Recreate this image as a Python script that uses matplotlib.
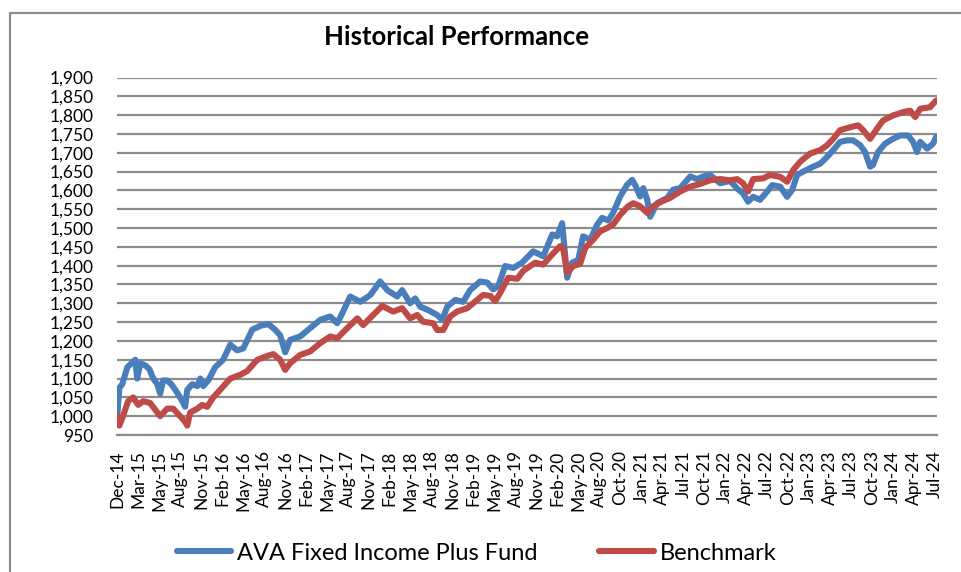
import matplotlib.pyplot as plt
from matplotlib.patches import Rectangle
from matplotlib.ticker import FuncFormatter

# x positions are measured along the category axis in label steps (Dec-14 = 0 ... Jul-24 = 39)
tick_labels = ['Dec-14', 'Mar-15', 'May-15', 'Aug-15', 'Nov-15', 'Feb-16', 'May-16', 'Aug-16',
               'Nov-16', 'Feb-17', 'May-17', 'Aug-17', 'Nov-17', 'Feb-18', 'May-18', 'Aug-18',
               'Nov-18', 'Feb-19', 'May-19', 'Aug-19', 'Nov-19', 'Feb-20', 'May-20', 'Aug-20',
               'Oct-20', 'Jan-21', 'Apr-21', 'Jul-21', 'Oct-21', 'Jan-22', 'Apr-22', 'Jul-22',
               'Oct-22', 'Jan-23', 'Apr-23', 'Jul-23', 'Oct-23', 'Jan-24', 'Apr-24', 'Jul-24']

fund_x = [0.00, 0.10, 0.24, 0.48, 0.67, 0.86, 0.95, 1.10, 1.34, 1.53, 1.72, 1.91, 2.05, 2.19,
          2.38, 2.58, 2.77, 3.00, 3.15, 3.24, 3.34, 3.58, 3.82, 3.96, 4.10, 4.34, 4.67, 5.05,
          5.39, 5.72, 6.01, 6.44, 6.82, 7.20, 7.53, 7.77, 8.01, 8.25, 8.73, 9.20, 9.68, 10.16,
          10.49, 10.73, 11.11, 11.59, 12.07, 12.54, 12.88, 13.35, 13.59, 13.97, 14.21, 14.45,
          14.83, 15.26, 15.50, 15.74, 16.12, 16.50, 16.83, 17.31, 17.65, 17.93, 18.17, 18.50,
          18.89, 19.31, 19.84, 20.32, 20.75, 20.98, 21.22, 21.37, 21.46, 21.70, 21.99, 22.22,
          22.56, 22.89, 23.13, 23.42, 23.65, 23.99, 24.32, 24.56, 24.70, 24.94, 25.09, 25.28,
          25.42, 25.75, 26.23, 26.52, 26.85, 27.33, 27.66, 27.95, 28.28, 28.76, 29.23, 29.57,
          29.85, 30.09, 30.33, 30.66, 31.00, 31.24, 31.62, 31.95, 32.19, 32.43, 32.72, 33.19,
          33.53, 33.86, 34.15, 34.48, 34.82, 35.10, 35.44, 35.67, 35.91, 36.05, 36.29, 36.62,
          37.00, 37.34, 37.72, 37.96, 38.15, 38.30, 38.63, 38.91, 39.06]
fund = [1000, 1075, 1085, 1130, 1140, 1150, 1100, 1140, 1135, 1125, 1100, 1085, 1060, 1095,
        1095, 1085, 1070, 1050, 1035, 1025, 1070, 1085, 1080, 1100, 1080, 1095, 1130, 1150,
        1190, 1175, 1180, 1230, 1240, 1245, 1230, 1215, 1170, 1203, 1212, 1234, 1256, 1265,
        1247, 1273, 1318, 1304, 1322, 1358, 1335, 1318, 1335, 1300, 1313, 1291,
        1282, 1269, 1256, 1291, 1309, 1304, 1335, 1358, 1355, 1337, 1345, 1399,
        1394, 1408, 1438, 1425, 1483, 1478, 1513, 1425, 1368, 1408, 1415, 1478,
        1469, 1509, 1527, 1520, 1540, 1584, 1615, 1628, 1615, 1584, 1606, 1575,
        1530, 1566, 1580, 1602, 1606, 1637, 1630, 1637, 1641, 1619, 1625, 1605,
        1592, 1570, 1583, 1575, 1597, 1614, 1610, 1583, 1601, 1641, 1650, 1663,
        1671, 1689, 1707, 1729, 1733, 1733, 1720, 1702, 1663, 1668, 1702, 1724,
        1737, 1746, 1746, 1729, 1702, 1729, 1711, 1724, 1742]

bench_x = [0.00, 0.10, 0.24, 0.52, 0.76, 1.00, 1.24, 1.57, 1.91, 2.05, 2.38, 2.67, 3.00, 3.24,
           3.34, 3.48, 3.82, 4.05, 4.29, 4.58, 4.91, 5.39, 5.87, 6.20, 6.68, 7.15, 7.44, 7.77,
           8.01, 8.25, 8.73, 9.20, 9.68, 10.16, 10.49, 10.97, 11.45, 11.73, 12.21, 12.64, 13.16,
           13.59, 13.97, 14.31, 14.59, 15.07, 15.26, 15.55, 15.88, 16.21, 16.69, 17.17, 17.45,
           17.79, 18.03, 18.27, 18.65, 19.08, 19.36, 19.93, 20.32, 20.75, 21.13, 21.27, 21.46,
           21.75, 22.08, 22.32, 22.70, 23.03, 23.37, 23.65, 23.99, 24.37, 24.61, 24.94, 25.28,
           25.56, 25.99, 26.37, 26.85, 27.33, 27.80, 28.28, 28.76, 29.23, 29.57, 29.85, 30.09,
           30.33, 30.81, 31.14, 31.62, 31.95, 32.24, 32.57, 33.05, 33.53, 33.86, 34.15, 34.48,
           34.96, 35.34, 35.58, 35.91, 36.24, 36.53, 37.00, 37.48, 37.82, 38.06, 38.30, 38.77,
           39.06]
bench = [1000, 975, 995, 1040, 1050, 1030, 1040, 1035, 1010, 1000, 1020, 1020, 1000, 985,
         975, 1010, 1020, 1030, 1025, 1050, 1070, 1100, 1110, 1120, 1150, 1160, 1165, 1150,
         1123, 1141, 1163, 1172, 1194, 1212, 1207, 1234, 1260, 1242, 1269, 1293, 1278,
         1287, 1260, 1269, 1251, 1247, 1229, 1229, 1265, 1278, 1287, 1309, 1322,
         1320, 1306, 1328, 1368, 1365, 1386, 1408, 1403, 1430, 1452, 1445, 1381,
         1399, 1405, 1447, 1469, 1491, 1500, 1509, 1535, 1558, 1566, 1558, 1540,
         1558, 1571, 1580, 1597, 1610, 1617, 1627, 1630, 1627, 1630, 1619, 1597,
         1630, 1632, 1641, 1636, 1623, 1654, 1676, 1698, 1707, 1720, 1737, 1760,
         1768, 1773, 1760, 1737, 1764, 1786, 1799, 1808, 1812, 1795, 1817, 1821,
         1839]

plt.rcParams['font.family'] = ['Lato', 'DejaVu Sans']

fig = plt.figure(figsize=(9.61, 5.72), dpi=100)
ax = fig.add_axes([0.122, 0.2395, 0.853, 0.625])

ax.plot(fund_x, fund, color='#4A7EBB', lw=4.4, solid_capstyle='round', solid_joinstyle='round',
        label='AVA Fixed Income Plus Fund', zorder=3)
ax.plot(bench_x, bench, color='#BE4B48', lw=4.4, solid_capstyle='round', solid_joinstyle='round',
        label='Benchmark', zorder=4)

ax.set_ylim(950, 1900)
ax.set_yticks(range(950, 1901, 50))
ax.yaxis.set_major_formatter(FuncFormatter(lambda v, p: f'{int(v):,}'))
ax.set_xlim(0, 39.1)
ax.set_xticks(range(len(tick_labels)))
ax.set_xticklabels(tick_labels, rotation=90, va='top', ha='center')

ax.grid(axis='y', color='#8C8C8C', lw=1.6)
ax.set_axisbelow(True)
for s in ['left', 'right', 'top']:
    ax.spines[s].set_visible(False)
ax.spines['bottom'].set_color('#8C8C8C')
ax.spines['bottom'].set_linewidth(1.6)
ax.tick_params(axis='both', length=0, labelsize=12.5, colors='black')
ax.tick_params(axis='x', pad=11)
ax.tick_params(axis='y', pad=17)

fig.text(0.475, 0.935, 'Historical Performance', ha='center', va='center',
         fontsize=18.5, fontweight='bold')

fig.legend(loc='center', bbox_to_anchor=(0.496, 0.033), ncol=2, frameon=False,
           fontsize=17, handlelength=2.3, handletextpad=0.25, columnspacing=2.6)

# grey frame around the chart area
fig.patches.append(Rectangle((10 / 961, -0.1), 1.2, 1.1 - 13 / 572, transform=fig.transFigure,
                             fill=False, edgecolor='#8C8C8C', lw=1.6))

fig.savefig('out.png', dpi=100)
